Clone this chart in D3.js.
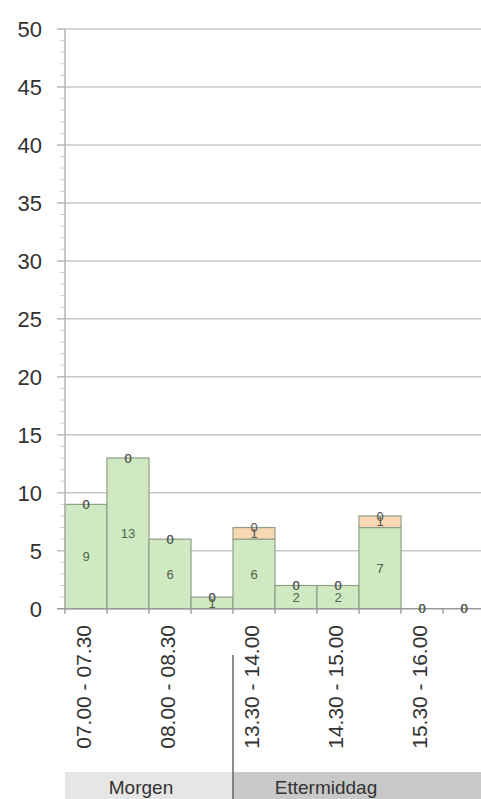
<!DOCTYPE html>
<html>
<head>
<meta charset="utf-8">
<script src="https://cdn.jsdelivr.net/npm/d3@7"></script>
<style>
html,body{margin:0;padding:0;background:#fff;}
svg{display:block;font-family:"Liberation Sans",Arial,sans-serif;}
</style>
</head>
<body>
<svg id="chart" width="481" height="799"></svg>
<script>
const categories = ["07.00 - 07.30","07.30 - 08.00","08.00 - 08.30","08.30 - 09.00","13.30 - 14.00","14.00 - 14.30","14.30 - 15.00","15.00 - 15.30","15.30 - 16.00","16.00 - 16.30"];
const shownTickLabels = ["07.00 - 07.30","08.00 - 08.30","13.30 - 14.00","14.30 - 15.00","15.30 - 16.00"];
const greenValues  = [9,13,6,1,6,2,2,7,0,0];
const orangeValues = [0,0,0,0,1,0,0,1,0,0];
const otherValues  = [0,0,0,0,0,0,0,0,0,0];
const yTicks = [0,5,10,15,20,25,30,35,40,45,50];
const groupNames = ["Morgen","Ettermiddag"];
const groupStartIdx = [0,4];

const svg = d3.select("#chart");
const W = 481;
const y = d3.scaleLinear().domain([0,50]).range([608.7,29]);
const x = d3.scaleBand().domain(categories).range([65,485]).padding(0);

// gridlines
svg.append("g").selectAll("line").data(yTicks.filter(d=>d>0)).join("line")
  .attr("x1",57).attr("x2",W).attr("y1",d=>y(d)).attr("y2",d=>y(d))
  .attr("stroke","#c6c6c6").attr("stroke-width",1.5);

// minor ticks
svg.append("g").selectAll("line").data(d3.range(0,51)).join("line")
  .attr("x1",d=>d%5===0?57:60).attr("x2",65).attr("y1",d=>y(d)).attr("y2",d=>y(d))
  .attr("stroke",d=>d%5===0?"#c0c0c0":"#cfcfcf").attr("stroke-width",1);

// stacked data
const keys = ["green","orange","other"];
const rows = categories.map((c,i)=>({cat:c,green:greenValues[i],orange:orangeValues[i],other:otherValues[i]}));
const stack = d3.stack().keys(keys)(rows);
const fills = {green:"#cfe9c2",orange:"#f8d8b3",other:"#e0e0f0"};

stack.forEach(layer=>{
  svg.append("g").selectAll("rect").data(layer.filter(d=>d[1]-d[0]>0)).join("rect")
    .attr("x",d=>x(d.data.cat)).attr("width",x.bandwidth())
    .attr("y",d=>y(d[1])).attr("height",d=>y(d[0])-y(d[1]))
    .attr("fill",fills[layer.key]).attr("stroke","#8fa088").attr("stroke-width",1.2);
});

// y axis line
svg.append("line").attr("x1",65).attr("x2",65).attr("y1",y(50)).attr("y2",y(0))
  .attr("stroke","#b5b5b5").attr("stroke-width",1.5);
// x axis line
svg.append("line").attr("x1",57).attr("x2",W).attr("y1",y(0)).attr("y2",y(0))
  .attr("stroke","#9a9a9a").attr("stroke-width",1.5);
// x ticks at category boundaries
svg.append("g").selectAll("line").data(categories).join("line")
  .attr("x1",d=>x(d)).attr("x2",d=>x(d)).attr("y1",y(0)).attr("y2",y(0)+5)
  .attr("stroke","#8a8a8a").attr("stroke-width",1.2);

// y labels
svg.append("g").selectAll("text").data(yTicks).join("text")
  .attr("x",42).attr("y",d=>y(d)).attr("dy","0.36em").attr("text-anchor","end")
  .attr("font-size",22).attr("fill","#333").text(d=>d);

// value labels
stack.slice().reverse().forEach(layer=>{
  svg.append("g").selectAll("text").data(layer).join("text")
    .attr("x",d=>x(d.data.cat)+x.bandwidth()/2)
    .attr("y",d=>y((d[0]+d[1])/2)).attr("dy","0.36em").attr("text-anchor","middle")
    .attr("font-size",13)
    .attr("fill",layer.key==="green"?"#4f6448":"#555")
    .text(d=>d.data[layer.key]);
});

// x tick labels (rotated)
svg.append("g").selectAll("text").data(shownTickLabels).join("text")
  .attr("transform",d=>`translate(${x(d)+x.bandwidth()/2-2.5},625) rotate(-90)`)
  .attr("text-anchor","end").attr("dy","0.36em")
  .attr("font-size",21).attr("fill","#333").text(d=>d);

// group bands
const groupX0 = groupStartIdx.map(i=>x(categories[i]));
const groupX1 = groupStartIdx.map((s,k)=>k+1<groupStartIdx.length?x(categories[groupStartIdx[k+1]]):W);
const groupFills = ["#e6e6e6","#c8c8c8"];
svg.append("g").selectAll("rect").data(groupNames).join("rect")
  .attr("x",(d,i)=>groupX0[i]).attr("width",(d,i)=>groupX1[i]-groupX0[i])
  .attr("y",772).attr("height",27).attr("fill",(d,i)=>groupFills[i]);
svg.append("g").selectAll("text").data(groupNames).join("text")
  .attr("x",(d,i)=>i===0?141:326)
  .attr("y",794).attr("text-anchor","middle")
  .attr("font-size",19).attr("fill","#333").text(d=>d);
// separator
svg.append("line").attr("x1",groupX0[1]).attr("x2",groupX0[1]).attr("y1",655).attr("y2",799)
  .attr("stroke","#666").attr("stroke-width",1.5);
</script>
</body>
</html>
